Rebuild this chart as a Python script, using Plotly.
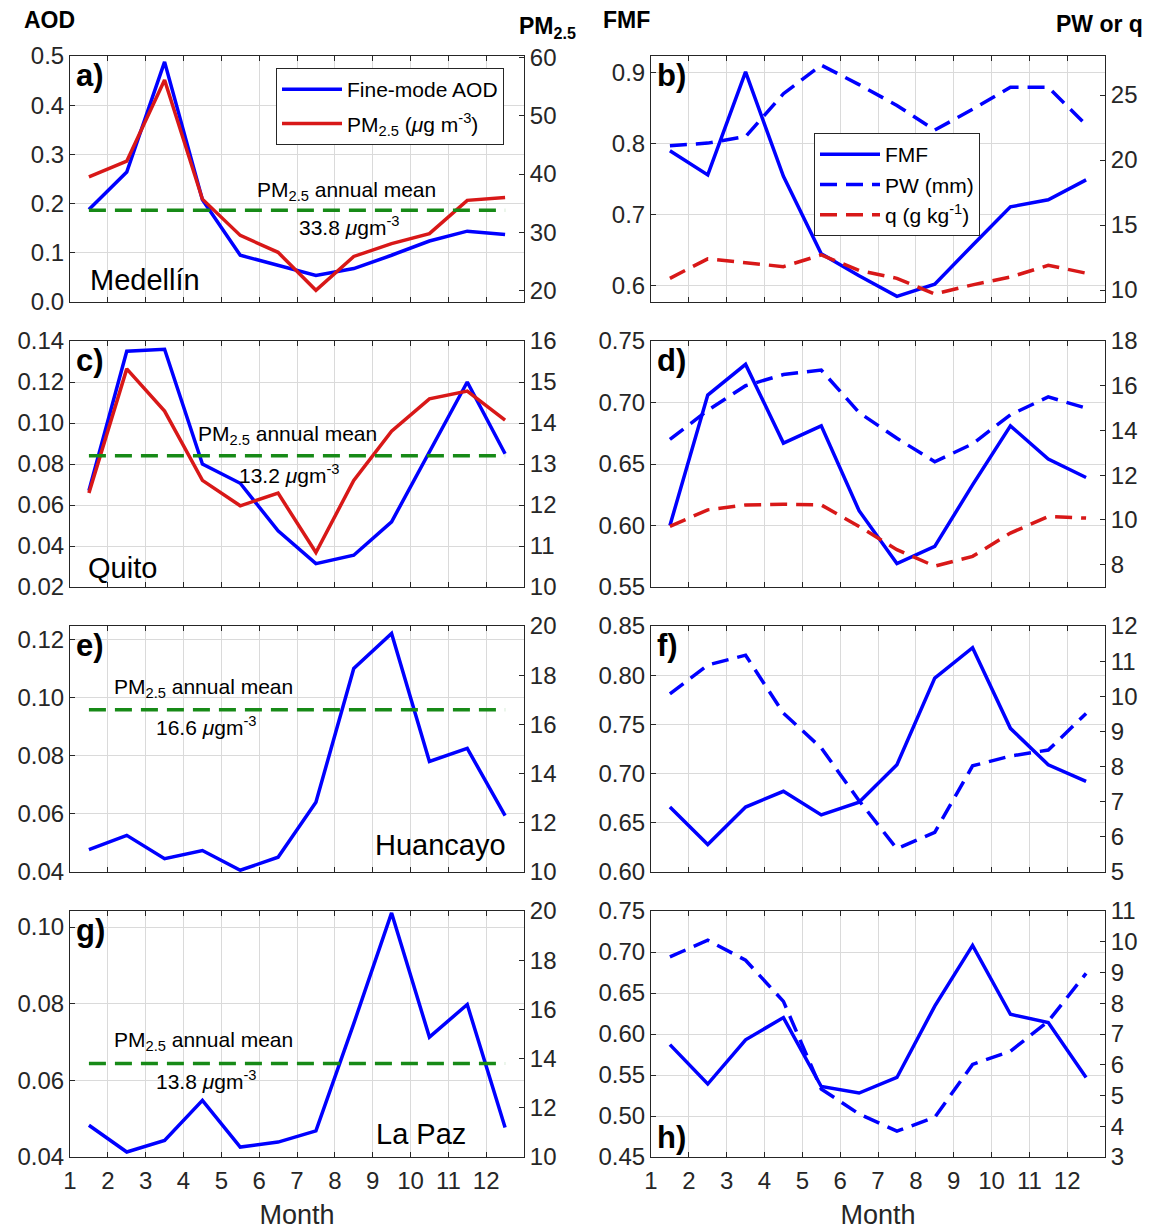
import plotly.graph_objects as go

W, H = 1159, 1230
FONT = "Liberation Sans, Arial, Helvetica, sans-serif"
BLUE = "#0000ff"
RED = "#d81818"
GREEN = "#178a17"
AXIS = "#262626"
GRID = "#dadada"

# ---- data -------------------------------------------------------------
MONTH_MID = [1.5, 2.5, 3.5, 4.5, 5.5, 6.5, 7.5, 8.5, 9.5, 10.5, 11.5, 12.5]
MONTH_TICKS = [1, 2, 3, 4, 5, 6, 7, 8, 9, 10, 11, 12]

# Medellín
MED_AOD = [0.188, 0.264, 0.488, 0.208, 0.095, 0.074, 0.054, 0.068, 0.095, 0.124, 0.144, 0.137]
MED_PM25 = [39.5, 42.2, 56.1, 35.7, 29.5, 26.6, 20.1, 25.9, 28.1, 29.8, 35.5, 36.0]
MED_PM25_MEAN = 33.8
MED_FMF = [0.790, 0.756, 0.901, 0.754, 0.645, 0.614, 0.585, 0.602, 0.657, 0.711, 0.721, 0.749]
MED_PW = [21.1, 21.3, 21.8, 25.1, 27.3, 25.8, 24.2, 22.3, 23.9, 25.6, 25.6, 22.7]
MED_Q = [10.9, 12.4, 12.1, 11.8, 12.7, 11.5, 10.9, 9.7, 10.4, 11.0, 11.9, 11.3]

# Quito
QUI_AOD = [0.067, 0.135, 0.136, 0.080, 0.0706, 0.0474, 0.0314, 0.0355, 0.0518, 0.086, 0.120, 0.085]
QUI_PM25 = [12.29, 15.32, 14.29, 12.60, 11.98, 12.29, 10.84, 12.60, 13.80, 14.59, 14.78, 14.07]
QUI_PM25_MEAN = 13.2
QUI_FMF = [0.600, 0.706, 0.731, 0.667, 0.681, 0.612, 0.569, 0.583, 0.633, 0.681, 0.654, 0.639]
QUI_PW = [13.6, 14.9, 16.0, 16.5, 16.7, 14.8, 13.65, 12.6, 13.4, 14.7, 15.5, 15.0]
QUI_Q = [9.71, 10.45, 10.67, 10.7, 10.67, 9.71, 8.67, 7.93, 8.37, 9.41, 10.15, 10.08]

# Huancayo
HUA_AOD = [0.0477, 0.0526, 0.0446, 0.0474, 0.0406, 0.0451, 0.064, 0.110, 0.122, 0.078, 0.0825, 0.0594]
HUA_PM25_MEAN = 16.6
HUA_FMF = [0.666, 0.628, 0.666, 0.682, 0.658, 0.671, 0.709, 0.797, 0.828, 0.746, 0.709, 0.692]
HUA_PW = [10.07, 10.89, 11.17, 9.52, 8.53, 7.03, 5.66, 6.13, 8.02, 8.30, 8.47, 9.51]

# La Paz
LPZ_AOD = [0.0483, 0.0413, 0.0443, 0.0548, 0.0426, 0.0439, 0.0468, 0.0748, 0.1037, 0.0713, 0.0798, 0.0477]
LPZ_PM25_MEAN = 13.8
LPZ_FMF = [0.587, 0.539, 0.593, 0.620, 0.536, 0.528, 0.547, 0.634, 0.708, 0.624, 0.614, 0.547]
LPZ_PW = [9.51, 10.05, 9.40, 8.06, 5.21, 4.40, 3.84, 4.29, 6.01, 6.44, 7.41, 8.97]

# ---- panel layout (pixels) ---------------------------------------------
COL_LEFT = [70, 651]
ROW_TOP = [56, 341, 626, 911]
PLOT_W, PLOT_H = 454, 246


def xdom(col):
    return [COL_LEFT[col] / W, (COL_LEFT[col] + PLOT_W) / W]


def ydom(row):
    return [1 - (ROW_TOP[row] + PLOT_H) / H, 1 - ROW_TOP[row] / H]


# left column: aerosol panels; right column: FMF / water vapour panels
aod_panels = [
    dict(label="a)", city="Medellín", aod=MED_AOD, pm=MED_PM25, mean=MED_PM25_MEAN,
         lrange=[0, 0.5], lticks=[0, 0.1, 0.2, 0.3, 0.4, 0.5], lfmt=".1f",
         rrange=[18.1, 60.2], rticks=[20, 30, 40, 50, 60],
         city_xy=(0.04, 0.089, "left"), title_xy=(0.608, 0.452), value_xy=(0.614, 0.308)),
    dict(label="c)", city="Quito", aod=QUI_AOD, pm=QUI_PM25, mean=QUI_PM25_MEAN,
         lrange=[0.02, 0.14], lticks=[0.02, 0.04, 0.06, 0.08, 0.10, 0.12, 0.14], lfmt=".2f",
         rrange=[10, 16], rticks=[10, 11, 12, 13, 14, 15, 16],
         city_xy=(0.035, 0.077, "left"), title_xy=(0.48, 0.617), value_xy=(0.482, 0.458)),
    dict(label="e)", city="Huancayo", aod=HUA_AOD, pm=None, mean=HUA_PM25_MEAN,
         lrange=[0.04, 0.1246], lticks=[0.04, 0.06, 0.08, 0.10, 0.12], lfmt=".2f",
         rrange=[10, 20], rticks=[10, 12, 14, 16, 18, 20],
         city_xy=(0.965, 0.11, "right"), title_xy=(0.295, 0.747), value_xy=(0.30, 0.592)),
    dict(label="g)", city="La Paz", aod=LPZ_AOD, pm=None, mean=LPZ_PM25_MEAN,
         lrange=[0.04, 0.1042], lticks=[0.04, 0.06, 0.08, 0.10], lfmt=".2f",
         rrange=[10, 20], rticks=[10, 12, 14, 16, 18, 20],
         city_xy=(0.67, 0.093, "left"), title_xy=(0.295, 0.47), value_xy=(0.30, 0.312)),
]

fmf_panels = [
    dict(label="b)", fmf=MED_FMF, pw=MED_PW, q=MED_Q,
         lrange=[0.577, 0.9235], lticks=[0.6, 0.7, 0.8, 0.9], lfmt=".1f",
         rrange=[9.08, 28.0], rticks=[10, 15, 20, 25], label_top=True),
    dict(label="d)", fmf=QUI_FMF, pw=QUI_PW, q=QUI_Q,
         lrange=[0.55, 0.75], lticks=[0.55, 0.60, 0.65, 0.70, 0.75], lfmt=".2f",
         rrange=[7, 18], rticks=[8, 10, 12, 14, 16, 18], label_top=True),
    dict(label="f)", fmf=HUA_FMF, pw=HUA_PW, q=None,
         lrange=[0.60, 0.85], lticks=[0.60, 0.65, 0.70, 0.75, 0.80, 0.85], lfmt=".2f",
         rrange=[5, 12], rticks=[5, 6, 7, 8, 9, 10, 11, 12], label_top=True),
    dict(label="h)", fmf=LPZ_FMF, pw=LPZ_PW, q=None,
         lrange=[0.45, 0.75], lticks=[0.45, 0.50, 0.55, 0.60, 0.65, 0.70, 0.75], lfmt=".2f",
         rrange=[3, 11], rticks=[3, 4, 5, 6, 7, 8, 9, 10, 11], label_top=False),
]

fig = go.Figure()
layout = dict(
    width=W, height=H,
    margin=dict(l=0, r=0, t=0, b=0, pad=0),
    paper_bgcolor="white", plot_bgcolor="white",
    font=dict(family=FONT, size=22, color="black"),
    showlegend=True,
)
annotations = []
TICK_FONT = dict(family=FONT, size=24, color=AXIS)
DASH = "17px,9px"
LW = 3.5


def axis_names(k):
    xa = "x" if k == 1 else f"x{k}"
    yl = "y" if k == 1 else f"y{2 * k - 1}"
    yr = f"y{2 * k}"
    return xa, yl, yr


def layout_key(name):
    return name[0] + "axis" + name[1:]


def add_axes(k, row, col, spec):
    xa, yl, yr = axis_names(k)
    bottom = row == 3
    layout[layout_key(xa)] = dict(
        domain=xdom(col), anchor=yl, range=[1, 13], automargin=False,
        tickvals=MONTH_TICKS, showticklabels=bottom, tickfont=TICK_FONT,
        ticks="inside", ticklen=5, tickcolor=AXIS, ticklabelstandoff=2,
        showgrid=True, gridcolor=GRID, gridwidth=1, zeroline=False,
        showline=True, linecolor=AXIS, linewidth=1, mirror="ticks",
        title=dict(text="Month", font=dict(family=FONT, size=27, color=AXIS), standoff=14) if bottom else None,
    )
    layout[layout_key(yl)] = dict(
        domain=ydom(row), anchor=xa, range=spec["lrange"], automargin=False,
        tickvals=spec["lticks"], tickformat=spec["lfmt"], tickfont=TICK_FONT,
        ticks="inside", ticklen=5, tickcolor=AXIS,
        showgrid=True, gridcolor=GRID, gridwidth=1, zeroline=False,
        showline=True, linecolor=AXIS, linewidth=1,
    )
    layout[layout_key(yr)] = dict(
        overlaying=yl, side="right", anchor=xa, range=spec["rrange"], automargin=False,
        tickvals=spec["rticks"], tickformat="d", tickfont=TICK_FONT,
        ticks="inside", ticklen=5, tickcolor=AXIS,
        showgrid=False, zeroline=False,
        showline=True, linecolor=AXIS, linewidth=1,
    )
    return xa, yl, yr


def dom_ref(name):
    return f"{name} domain"


LABEL_FONT = dict(family=FONT, size=31, color="black")
NOTE_FONT = dict(family=FONT, size=21, color="black")

# aerosol panels
for i, spec in enumerate(aod_panels):
    k = 2 * i + 1
    xa, yl, yr = add_axes(k, i, 0, spec)
    first = i == 0
    fig.add_trace(go.Scatter(
        x=MONTH_MID, y=spec["aod"], xaxis=xa, yaxis=yl, mode="lines",
        line=dict(color=BLUE, width=LW), name="Fine-mode AOD",
        showlegend=first, legend="legend", legendgroup="aod"))
    if spec["pm"] is not None:
        fig.add_trace(go.Scatter(
            x=MONTH_MID, y=spec["pm"], xaxis=xa, yaxis=yr, mode="lines",
            line=dict(color=RED, width=LW),
            name="PM<sub>2.5</sub> (<i>μ</i>g m<sup>-3</sup>)",
            showlegend=first, legend="legend", legendgroup="pm"))
    fig.add_trace(go.Scatter(
        x=[MONTH_MID[0], MONTH_MID[-1]], y=[spec["mean"], spec["mean"]],
        xaxis=xa, yaxis=yr, mode="lines",
        line=dict(color=GREEN, width=LW, dash=DASH), showlegend=False))

    annotations.append(dict(
        text="<b>" + spec["label"] + "</b>", xref=dom_ref(xa), yref=dom_ref(yl),
        x=0.008, y=1.0, xanchor="left", yanchor="top", showarrow=False,
        font=LABEL_FONT))
    cx, cy, anc = spec["city_xy"]
    annotations.append(dict(
        text=spec["city"], xref=dom_ref(xa), yref=dom_ref(yl),
        x=cx, y=cy, xanchor=anc, yanchor="middle", showarrow=False,
        font=dict(family=FONT, size=29, color="black")))
    tx, ty = spec["title_xy"]
    annotations.append(dict(
        text="PM<sub>2.5</sub> annual mean", xref=dom_ref(xa), yref=dom_ref(yl),
        x=tx, y=ty, xanchor="center", yanchor="middle", showarrow=False,
        font=NOTE_FONT))
    vx, vy = spec["value_xy"]
    annotations.append(dict(
        text=f"{spec['mean']:.1f} <i>μ</i>gm<sup>-3</sup>", xref=dom_ref(xa), yref=dom_ref(yl),
        x=vx, y=vy, xanchor="center", yanchor="middle", showarrow=False,
        font=NOTE_FONT))

# FMF / water vapour panels
for i, spec in enumerate(fmf_panels):
    k = 2 * i + 2
    xa, yl, yr = add_axes(k, i, 1, spec)
    first = i == 0
    fig.add_trace(go.Scatter(
        x=MONTH_MID, y=spec["fmf"], xaxis=xa, yaxis=yl, mode="lines",
        line=dict(color=BLUE, width=LW), name="FMF",
        showlegend=first, legend="legend2", legendgroup="fmf"))
    fig.add_trace(go.Scatter(
        x=MONTH_MID, y=spec["pw"], xaxis=xa, yaxis=yr, mode="lines",
        line=dict(color=BLUE, width=LW, dash=DASH), name="PW (mm)",
        showlegend=first, legend="legend2", legendgroup="pw"))
    if spec["q"] is not None:
        fig.add_trace(go.Scatter(
            x=MONTH_MID, y=spec["q"], xaxis=xa, yaxis=yr, mode="lines",
            line=dict(color=RED, width=LW, dash=DASH),
            name="q (g kg<sup>-1</sup>)",
            showlegend=first, legend="legend2", legendgroup="q"))
    if spec["label_top"]:
        annotations.append(dict(
            text="<b>" + spec["label"] + "</b>", xref=dom_ref(xa), yref=dom_ref(yl),
            x=0.008, y=1.0, xanchor="left", yanchor="top", showarrow=False,
            font=LABEL_FONT))
    else:
        annotations.append(dict(
            text="<b>" + spec["label"] + "</b>", xref=dom_ref(xa), yref=dom_ref(yl),
            x=0.008, y=0.0, xanchor="left", yanchor="bottom", showarrow=False,
            font=LABEL_FONT))

# column headers
HEAD = dict(family=FONT, size=23, color="black")
for text, px, py, anc in [("<b>AOD</b>", 22, 20, "left"),
                          ("<b>PM<sub>2.5</sub></b>", 578, 28, "right"),
                          ("<b>FMF</b>", 601, 20, "left"),
                          ("<b>PW or q</b>", 1145, 24, "right")]:
    annotations.append(dict(
        text=text, xref="paper", yref="paper", x=px / W, y=1 - py / H,
        xanchor=anc, yanchor="middle", showarrow=False, font=HEAD))

layout["annotations"] = annotations
layout["legend"] = dict(
    x=276 / W, y=1 - 68 / H, xanchor="left", yanchor="top",
    bgcolor="white", bordercolor=AXIS, borderwidth=1, itemwidth=60,
    font=dict(family=FONT, size=21, color="black"),
    traceorder="grouped", tracegroupgap=4)
layout["legend2"] = dict(
    x=814 / W, y=1 - 133 / H, xanchor="left", yanchor="top",
    bgcolor="white", bordercolor=AXIS, borderwidth=1, itemwidth=60,
    font=dict(family=FONT, size=21, color="black"),
    traceorder="grouped", tracegroupgap=0)

fig.update_layout(**layout)
fig.write_html("out.html")
